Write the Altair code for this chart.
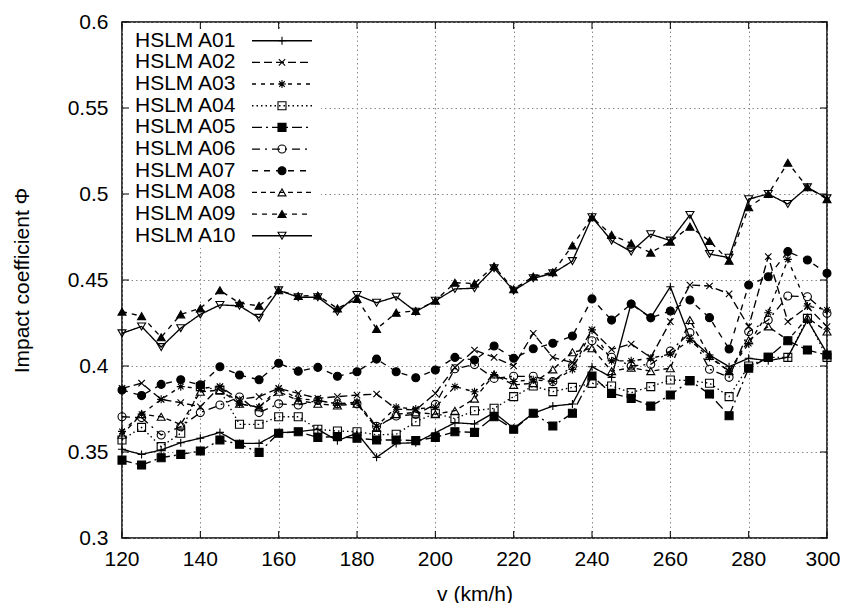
import altair as alt
import pandas as pd

speeds = list(range(120, 305, 5))

names = ["HSLM A01", "HSLM A02", "HSLM A03", "HSLM A04", "HSLM A05",
         "HSLM A06", "HSLM A07", "HSLM A08", "HSLM A09", "HSLM A10"]

a01 = [0.3516, 0.3486, 0.3512, 0.3554, 0.358, 0.3614, 0.355, 0.355, 0.3612, 0.3618,
       0.3632, 0.3566, 0.361, 0.3469, 0.355, 0.3554, 0.3612, 0.367, 0.3663, 0.3729,
       0.3638, 0.3725, 0.3767, 0.3779, 0.3996, 0.3934, 0.4364, 0.4281, 0.4461, 0.4161,
       0.4064, 0.3996, 0.4045, 0.4031, 0.4051, 0.4267, 0.4074]
a02 = [0.387, 0.39, 0.3806, 0.3787, 0.3763, 0.388, 0.3806, 0.3822, 0.387, 0.3841,
       0.3812, 0.3822, 0.3831, 0.3837, 0.375, 0.3744, 0.3841, 0.3992, 0.4093, 0.405,
       0.400, 0.419, 0.405, 0.402, 0.421, 0.4097, 0.4128, 0.405, 0.4258, 0.4471,
       0.4465, 0.4419, 0.4229, 0.4636, 0.4258, 0.4345, 0.4229]
a03 = [0.362, 0.372, 0.3806, 0.388, 0.387, 0.388, 0.378, 0.376, 0.387, 0.381,
       0.380, 0.378, 0.379, 0.365, 0.376, 0.375, 0.376, 0.388, 0.385, 0.395,
       0.391, 0.392, 0.391, 0.398, 0.421, 0.403, 0.403, 0.4045, 0.407, 0.415,
       0.405, 0.397, 0.413, 0.431, 0.462, 0.4349, 0.4326]
a04 = [0.357, 0.3643, 0.3531, 0.3609, 0.388, 0.386, 0.3661, 0.3661, 0.3705, 0.3705,
       0.3632, 0.3622, 0.3618, 0.360, 0.3603, 0.3676, 0.3725, 0.3694, 0.374, 0.3754,
       0.3822, 0.3884, 0.3851, 0.3876, 0.3899, 0.3884, 0.3845, 0.388, 0.3919, 0.3915,
       0.390, 0.3822, 0.400, 0.405, 0.405, 0.4277, 0.405]
a05 = [0.3453, 0.3424, 0.3467, 0.3486, 0.3506, 0.357, 0.3545, 0.3498, 0.3609, 0.3618,
       0.3585, 0.359, 0.358, 0.357, 0.357, 0.3566, 0.3585, 0.3618, 0.3614, 0.3705,
       0.3632, 0.3725, 0.3651, 0.3725, 0.3942, 0.3841, 0.3812, 0.3767, 0.3831, 0.3915,
       0.3837, 0.3711, 0.3987, 0.4051, 0.4147, 0.4093, 0.4064]
a06 = [0.3705, 0.370, 0.3599, 0.3647, 0.3729, 0.3773, 0.382, 0.3729, 0.378, 0.3773,
       0.380, 0.378, 0.378, 0.365, 0.3709, 0.3719, 0.3777, 0.3984, 0.4008, 0.3928,
       0.394, 0.394, 0.3909, 0.400, 0.4147, 0.4051, 0.400, 0.401, 0.4087, 0.4194,
       0.3981, 0.3934, 0.420, 0.4267, 0.4407, 0.4403, 0.4306]
a07 = [0.386, 0.3828, 0.3893, 0.392, 0.389, 0.3996, 0.3948, 0.392, 0.4016, 0.397,
       0.3992, 0.394, 0.3967, 0.404, 0.3967, 0.3932, 0.3977, 0.405, 0.4035, 0.4116,
       0.4045, 0.410, 0.4132, 0.4174, 0.439, 0.4267, 0.436, 0.428, 0.432, 0.4384,
       0.4281, 0.4099, 0.4471, 0.4519, 0.4665, 0.4616, 0.4539]
a08 = [0.360, 0.372, 0.3705, 0.366, 0.385, 0.386, 0.378, 0.376, 0.385, 0.380,
       0.378, 0.377, 0.378, 0.364, 0.372, 0.373, 0.372, 0.374, 0.381, 0.395,
       0.389, 0.390, 0.398, 0.408, 0.4103, 0.397, 0.399, 0.397, 0.3987, 0.4267,
       0.4058, 0.397, 0.415, 0.423, 0.415, 0.428, 0.420]
a09 = [0.4316, 0.429, 0.4167, 0.430, 0.4335, 0.444, 0.4365, 0.435, 0.444, 0.4407,
       0.441, 0.4335, 0.439, 0.4215, 0.431, 0.432, 0.438, 0.4484, 0.448, 0.458,
       0.4446, 0.452, 0.4545, 0.470, 0.4865, 0.4762, 0.4713, 0.4659, 0.4723, 0.481,
       0.4727, 0.4612, 0.4923, 0.500, 0.5182, 0.5039, 0.497]
a10 = [0.419, 0.423, 0.411, 0.422, 0.430, 0.4355, 0.435, 0.428, 0.444, 0.440,
       0.440, 0.4316, 0.4413, 0.4368, 0.4403, 0.4316, 0.438, 0.4448, 0.4452, 0.4568,
       0.4438, 0.451, 0.4539, 0.461, 0.4865, 0.4729, 0.4665, 0.4766, 0.4729, 0.4878,
       0.4651, 0.463, 0.497, 0.500, 0.4942, 0.5039, 0.4975]

series_values = [a01, a02, a03, a04, a05, a06, a07, a08, a09, a10]

x_ticks = [120, 140, 160, 180, 200, 220, 240, 260, 280, 300]
x_tick_labels = ["120", "140", "160", "180", "200", "220", "240", "260", "280", "300"]
y_ticks = [0.3, 0.35, 0.4, 0.45, 0.5, 0.55, 0.6]

# styles
PLUS = "M-1,0L1,0M0,-1L0,1"
CROSS = "M-0.8,-0.8L0.8,0.8M-0.8,0.8L0.8,-0.8"
STAR = "M-1,0L1,0M0,-1L0,1M-0.7,-0.7L0.7,0.7M-0.7,0.7L0.7,-0.7"
shapes = [PLUS, CROSS, STAR, "square", "square", "circle", "circle",
          "triangle-up", "triangle-up", "triangle-down"]
fills = ["transparent", "transparent", "transparent", "transparent", "black",
         "transparent", "black", "transparent", "black", "transparent"]
dashes = [[1, 0], [8, 4], [4, 5], [1.5, 3], [10, 4, 2, 4], [8, 5, 2, 5],
          [6, 6], [5, 4], [5, 5], [1, 0]]

W, H = 705, 516
FONT = "Liberation Sans"

rows = []
for n, vals in zip(names, series_values):
    for v, p in zip(speeds, vals):
        rows.append({"series": n, "v": v, "phi": p})
df = pd.DataFrame(rows)

xs = alt.Scale(domain=[120, 300], nice=False, zero=False, padding=0)
ys = alt.Scale(domain=[0.3, 0.6], nice=False, zero=False, padding=0)
xaxis = alt.Axis(values=x_ticks, title="v (km/h)", grid=True, labels=False,
                 tickSize=0, domain=False,
                 titleY=56, titleBaseline="middle")
yaxis = alt.Axis(values=y_ticks, format="~g", title="Impact coefficient Φ", grid=True,
                 tickSize=0, labelPadding=14, domain=False, labelFlush=False,
                 titleX=-100, titleY=258, titleAngle=-90, titleBaseline="middle",
                 titleAlign="center")
X = alt.X("v:Q", scale=xs, axis=xaxis)
Y = alt.Y("phi:Q", scale=ys, axis=yaxis)

lines = alt.Chart(df).mark_line(color="black", strokeWidth=1.35).encode(
    x=X, y=Y, detail="series:N",
    strokeDash=alt.StrokeDash("series:N", scale=alt.Scale(domain=names, range=dashes), legend=None),
)
points = alt.Chart(df).mark_point(filled=True, stroke="black", strokeWidth=1.1, size=64, opacity=1).encode(
    x=X, y=Y,
    shape=alt.Shape("series:N", scale=alt.Scale(domain=names, range=shapes), legend=None),
    fill=alt.Fill("series:N", scale=alt.Scale(domain=names, range=fills), legend=None),
)

xt = pd.DataFrame({"v": x_ticks, "lab": x_tick_labels})
yt = pd.DataFrame({"phi": y_ticks})
tick_b = alt.Chart(xt).mark_rule(color="black", strokeWidth=1).encode(x=X, y=alt.value(H), y2=alt.value(H - 7))
tick_t = alt.Chart(xt).mark_rule(color="black", strokeWidth=1).encode(x=X, y=alt.value(0), y2=alt.value(7))
tick_l = alt.Chart(yt).mark_rule(color="black", strokeWidth=1).encode(y=Y, x=alt.value(0), x2=alt.value(7))
tick_r = alt.Chart(yt).mark_rule(color="black", strokeWidth=1).encode(y=Y, x=alt.value(W), x2=alt.value(W - 7))

# x tick labels (last one nudged so it stays inside the page)
xlab_main = alt.Chart(xt).transform_filter("datum.v < 300").mark_text(
    fontSize=21, font=FONT, color="black", baseline="middle").encode(
    x=X, y=alt.value(H + 22), text="lab:N")
xlab_last = alt.Chart(xt).transform_filter("datum.v >= 300").mark_text(
    fontSize=21, font=FONT, color="black", baseline="middle", dx=-4).encode(
    x=X, y=alt.value(H + 22), text="lab:N")

one = pd.DataFrame({"k": [0]})
box = alt.Chart(one).mark_rect(fill="white").encode(
    x=alt.value(2), x2=alt.value(199), y=alt.value(9), y2=alt.value(226))

legend_layers = []
for i, n in enumerate(names):
    py = 18.7 + 21.67 * i
    d = pd.DataFrame({"label": [n]})
    legend_layers.append(alt.Chart(d).mark_text(align="left", baseline="middle", fontSize=21,
                                                font=FONT, color="black").encode(
        x=alt.value(13), y=alt.value(py), text="label:N"))
    legend_layers.append(alt.Chart(d).mark_rule(color="black", strokeWidth=1.35, strokeDash=dashes[i]).encode(
        x=alt.value(130), x2=alt.value(190), y=alt.value(py)))
    legend_layers.append(alt.Chart(d).mark_point(shape=shapes[i], filled=True, fill=fills[i],
                                                 stroke="black", strokeWidth=1.1, size=64, opacity=1).encode(
        x=alt.value(160), y=alt.value(py)))

chart = alt.layer(box, lines, points, tick_b, tick_t, tick_l, tick_r, xlab_main, xlab_last,
                  *legend_layers).properties(
    width=W, height=H,
    autosize=alt.AutoSizeParams(type="none"),
    padding={"left": 114, "top": 14, "right": 13, "bottom": 65},
).configure_view(stroke="black", strokeWidth=1.5).configure_axis(
    labelFont=FONT, titleFont=FONT,
    labelFontSize=21, titleFontSize=21, labelColor="black", titleColor="black",
    titleFontWeight="normal", gridColor="#888888", gridDash=[1.5, 3], gridWidth=1,
    gridOpacity=1,
)

chart.save("out.html", embed_options={"renderer": "svg", "actions": False})
